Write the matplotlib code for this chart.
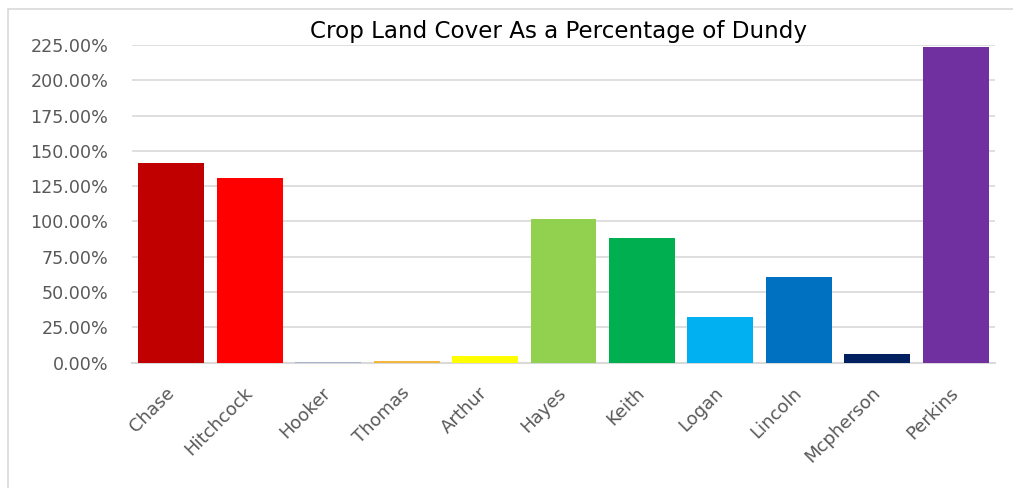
import matplotlib.pyplot as plt
from matplotlib.patches import Rectangle
from matplotlib.ticker import FuncFormatter, MultipleLocator

counties = ["Chase", "Hitchcock", "Hooker", "Thomas", "Arthur", "Hayes",
            "Keith", "Logan", "Lincoln", "Mcpherson", "Perkins"]
pct = [141.4, 130.8, 0.7, 1.1, 4.9, 101.9, 88.5, 31.9, 60.8, 6.2, 223.8]
colors = ["#C00000", "#FF0000", "#A9B4CC", "#F4B63A", "#FFFF00", "#92D050",
          "#00B050", "#00B0F0", "#0070C0", "#002060", "#7030A0"]

plt.rcParams['font.family'] = ['DejaVu Sans']

fig = plt.figure(figsize=(10.13, 4.88), dpi=100)
fig.patches.append(Rectangle((8 / 1013, -0.1), 1.2, 1 - 9 / 488 + 0.1,
                             transform=fig.transFigure, fill=False,
                             edgecolor="#D9D9D9", linewidth=1.2))

ax = fig.add_axes([132 / 1013, 1 - 362.5 / 488, (995 - 132) / 1013, (362.5 - 45) / 488])
x = range(len(counties))
ax.bar(x, pct, width=0.84, color=colors, zorder=3)

ax.set_xlim(-0.5, len(counties) - 0.5)
ax.set_ylim(0, 225)
ax.yaxis.set_major_locator(MultipleLocator(25))
ax.yaxis.set_major_formatter(FuncFormatter(lambda v, p: f"{v:.2f}%"))
ax.grid(axis="y", color="#D9D9D9", linewidth=1.2, zorder=0)
for s in ["top", "right", "left"]:
    ax.spines[s].set_visible(False)
ax.spines["bottom"].set_color("#D9D9D9")
ax.spines["bottom"].set_linewidth(1.5)
ax.spines["bottom"].set_zorder(2)
ax.tick_params(axis="both", length=0, colors="#595959")
ax.tick_params(axis="y", pad=17, labelsize=12.6)
ax.tick_params(axis="x", pad=20, labelsize=13)
ax.set_xticks(list(x))
ax.set_xticklabels(counties, rotation=45, ha="right", va="center",
                   rotation_mode="anchor")

fig.text(559 / 1013, 1 - 38 / 488, "Crop Land Cover As a Percentage of Dundy",
         ha="center", va="baseline", fontsize=16.6, color="#000000")

fig.savefig("out.png", dpi=100)
